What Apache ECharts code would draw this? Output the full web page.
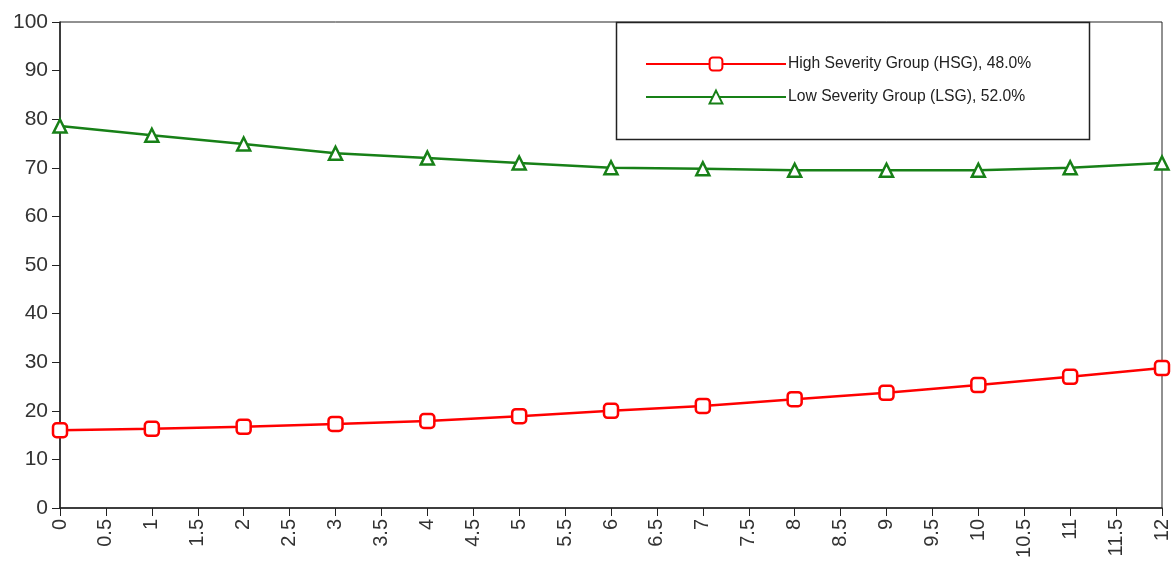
<!DOCTYPE html>
<html>
<head>
  <meta charset="UTF-8">
  <title>Severity groups</title>
  <script src="https://cdn.jsdelivr.net/npm/echarts@6/dist/echarts.min.js"></script>
  <style>
    html, body { margin: 0; padding: 0; background: #fff; }
  </style>
</head>
<body>
<div id="main" style="width: 1173px;height:565px;"></div>
<script type="text/javascript">
  // time points and group trajectories
  var timePoints = [0, 1, 2, 3, 4, 5, 6, 7, 8, 9, 10, 11, 12];
  var hsgValues = [16.0, 16.3, 16.7, 17.3, 17.9, 18.9, 20.0, 21.0, 22.4, 23.7, 25.3, 27.0, 28.8];
  var lsgValues = [78.6, 76.7, 74.9, 73.0, 72.0, 71.0, 70.0, 69.8, 69.5, 69.5, 69.5, 70.0, 71.0];
  var seriesNames = ['High Severity Group (HSG), 48.0%', 'Low Severity Group (LSG), 52.0%'];

  function pairs(vals) {
    return timePoints.map(function (t, i) { return [t, vals[i]]; });
  }

  var myChart = echarts.init(document.getElementById('main'));
  var font = 'Liberation Sans';

  var option = {
    backgroundColor: '#fff',
    animation: false,
    grid: {
      left: 60, top: 22, right: 11, bottom: 57,
      show: true, borderColor: '#222', borderWidth: 1
    },
    graphic: [{
      type: 'rect',
      shape: { x: 616.5, y: 22.5, width: 473, height: 117 },
      style: { fill: '#fff', stroke: '#222', lineWidth: 1.5 },
      z: 5
    }],
    legend: {
      orient: 'vertical',
      left: 645,
      top: 56,
      padding: 0,
      itemWidth: 140,
      itemHeight: 16,
      itemGap: 17,
      z: 10,
      textStyle: { fontFamily: font, fontSize: 15.7, color: '#222', padding: [0, 0, 0, -3] },
      data: seriesNames
    },
    xAxis: {
      type: 'value',
      min: 0, max: 12, interval: 0.5,
      axisLine: { lineStyle: { color: '#222', width: 1.5 } },
      axisTick: { show: true, length: 8, lineStyle: { color: '#222' } },
      splitLine: { show: false },
      axisLabel: {
        rotate: 90, margin: 11, fontFamily: font, fontSize: 20, color: '#333',
        formatter: function (v) { return String(v); }
      }
    },
    yAxis: {
      type: 'value',
      min: 0, max: 100, interval: 10,
      axisLine: { show: true, lineStyle: { color: '#222', width: 1.5 } },
      axisTick: { show: true, length: 8, lineStyle: { color: '#222' } },
      splitLine: { show: false },
      axisLabel: { margin: 12, fontFamily: font, fontSize: 21, color: '#333' }
    },
    series: [{
      name: seriesNames[0],
      type: 'line',
      data: pairs(hsgValues),
      symbol: 'roundRect',
      symbolSize: 14,
      showAllSymbol: true,
      lineStyle: { color: '#ff0000', width: 2.5 },
      itemStyle: { color: '#fff', borderColor: '#ff0000', borderWidth: 2.5 }
    }, {
      name: seriesNames[1],
      type: 'line',
      data: pairs(lsgValues),
      symbol: 'triangle',
      symbolSize: 13,
      showAllSymbol: true,
      lineStyle: { color: '#178017', width: 2.5 },
      itemStyle: { color: '#fff', borderColor: '#178017', borderWidth: 2.5 }
    }]
  };

  myChart.setOption(option);
</script>
</body>
</html>
